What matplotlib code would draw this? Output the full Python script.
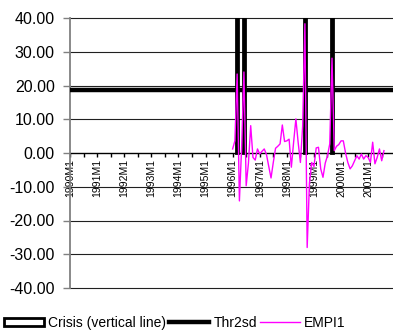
import matplotlib
matplotlib.use("Agg")
import matplotlib.pyplot as plt
import numpy as np
from matplotlib.patches import Patch
from matplotlib.lines import Line2D

plt.rcParams['font.family'] = ['Liberation Sans', 'DejaVu Sans']

# Categories: monthly 1990M1 .. 2001M12
years = list(range(1990, 2002))
categories = [f"{y}M{m}" for y in years for m in range(1, 13)]
n = len(categories)

# EMPI1 starts at 1996M1 (index 72)
empi_start = 72
empi1 = [1.2, 3.6, 23.4, -14.2, 2.0, 24.0, -9.7, -3.0, 8.1, -1.3,
         -2.1, 1.2, -0.3, 0.5, 1.2, -0.5, -4.0, -7.4, -2.8, 1.4,
         2.0, 2.7, 8.3, 3.4, 3.6, 4.1, -4.2, 3.2, 10.1, 3.2,
         -2.8, 8.0, 38.3, -28.0, -9.0, -2.8, -4.0, 1.5, 1.7, -4.7,
         -7.2, -3.0, -0.8, 2.7, 28.1, 0.7, 2.0, 2.5, 3.6, 3.6,
         0.0, -2.8, -4.7, -3.8, -2.3, -0.8, -1.8, -0.3, -1.8, -0.8,
         -1.3, -2.8, 3.2, -3.2, -1.3, 1.2, -2.3, 0.7]

# Crisis months (vertical lines drawn as bars of height 40)
crisis_months = ["1996M3", "1996M6", "1998M9", "1999M9"]
crisis_height = 40.0

# Threshold (2 standard deviations)
thr2sd = 18.8

yticks = [-40, -30, -20, -10, 0, 10, 20, 30, 40]

fig = plt.figure(figsize=(3.93, 3.31), dpi=100)
ax = fig.add_axes([70/393, 1-288/331, 1-70/393, (288-18)/331])

x = np.arange(n)
crisis_idx = [categories.index(c) for c in crisis_months]
ax.bar(crisis_idx, [crisis_height]*len(crisis_idx), width=0.9,
       facecolor='white', edgecolor='black', linewidth=2.0, zorder=3)

ax.plot([0, n-1], [thr2sd, thr2sd], color='black', linewidth=3.2, zorder=4,
        solid_capstyle='butt')

ex = np.arange(empi_start, empi_start + len(empi1))
ax.plot(ex, empi1, color='#FF00FF', linewidth=1.0, zorder=5)

for yv in yticks:
    if yv == 0:
        continue
    ax.axhline(yv, color='#202020', linewidth=0.8, zorder=1, clip_on=False)

ax.set_xlim(0, n-1)
ax.set_ylim(-40, 40)
ax.set_yticks(yticks)
ax.set_yticklabels([f"{v:.2f}" for v in yticks], fontsize=11.5)
ax.tick_params(axis='y', direction='out', length=5, width=1, color='#808080', pad=6)

ax.spines['top'].set_visible(False)
ax.spines['right'].set_visible(False)
ax.spines['left'].set_color('#808080')
ax.spines['left'].set_linewidth(1.3)
ax.spines['bottom'].set_position(('data', 0))
ax.spines['bottom'].set_color('black')
ax.spines['bottom'].set_linewidth(1.0)
ax.spines['bottom'].set_zorder(2)

major = list(range(0, n, 12))
ax.set_xticks(major)
ax.set_xticklabels([categories[i] for i in major], rotation=90, fontsize=7.5)
ax.set_xticks(list(range(6, n, 12)), minor=True)
ax.tick_params(axis='x', which='both', direction='out', length=3, width=1, pad=1.5)

handles = [Patch(facecolor='white', edgecolor='black', linewidth=2.0),
           Line2D([], [], color='black', linewidth=3.2),
           Line2D([], [], color='#FF00FF', linewidth=1.0)]
labels = ['Crisis (vertical line)', 'Thr2sd', 'EMPI1']
fig.legend(handles, labels, loc='center', bbox_to_anchor=(0.445, 1-323/331),
           ncol=3, frameon=False, fontsize=10, handlelength=2.9, handleheight=0.55,
           handletextpad=0.3, columnspacing=0.2, borderaxespad=0)

fig.savefig('out.png', dpi=100)
